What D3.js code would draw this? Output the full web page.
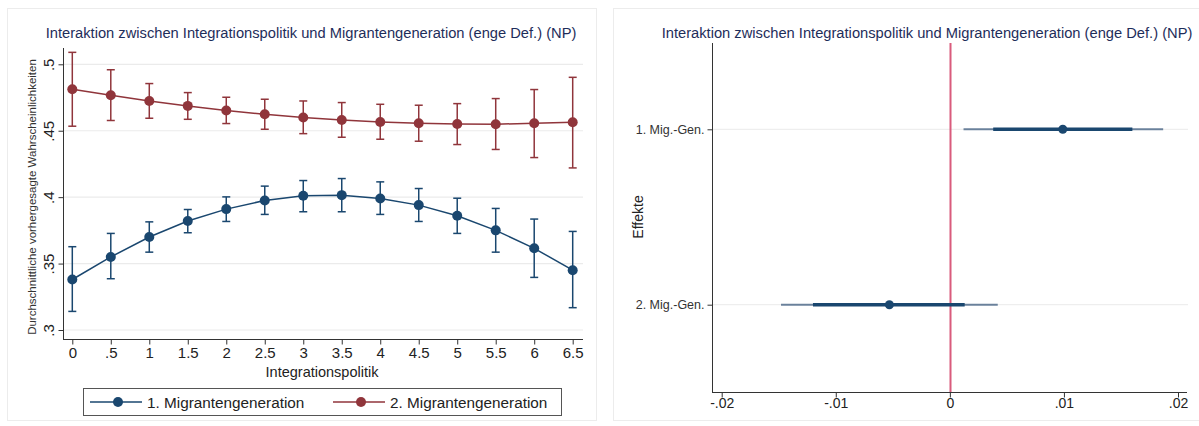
<!DOCTYPE html>
<html><head><meta charset="utf-8">
<script src="https://cdn.jsdelivr.net/npm/d3@7"></script>
<style>body{margin:0;background:#fff;}svg{display:block;font-family:"Liberation Sans",Arial,sans-serif;}</style>
</head><body>
<script>
// ---- Data: left panel (predictive margins)
const xValues = [0, 0.5, 1, 1.5, 2, 2.5, 3, 3.5, 4, 4.5, 5, 5.5, 6, 6.5];
const xTickLabels = ["0", ".5", "1", "1.5", "2", "2.5", "3", "3.5", "4", "4.5", "5", "5.5", "6", "6.5"];
const yTicks = [0.3, 0.35, 0.4, 0.45, 0.5];
const yTickLabels = [".3", ".35", ".4", ".45", ".5"];
const gen1Mean = [0.338, 0.355, 0.370, 0.382, 0.391, 0.3975, 0.401, 0.4015, 0.399, 0.394, 0.386, 0.375, 0.3615, 0.345];
const gen1Low  = [0.314, 0.3386, 0.3586, 0.3732, 0.3817, 0.387, 0.389, 0.389, 0.387, 0.3817, 0.3727, 0.3586, 0.3396, 0.3168];
const gen1High = [0.3627, 0.3727, 0.3814, 0.3907, 0.4002, 0.4083, 0.4125, 0.414, 0.4115, 0.4065, 0.3992, 0.3915, 0.3835, 0.3742];
const gen2Mean = [0.4812, 0.4767, 0.4724, 0.4687, 0.4652, 0.4624, 0.4599, 0.4581, 0.4566, 0.4556, 0.4551, 0.4549, 0.4556, 0.4564];
const gen2Low  = [0.4534, 0.4577, 0.4594, 0.4586, 0.4554, 0.4511, 0.4478, 0.4451, 0.4436, 0.4421, 0.4396, 0.4359, 0.4298, 0.422];
const gen2High = [0.509, 0.4959, 0.4855, 0.4787, 0.4752, 0.4737, 0.4724, 0.4712, 0.4699, 0.4692, 0.4704, 0.4742, 0.481, 0.4902];
const seriesNames = ["1. Migrantengeneration", "2. Migrantengeneration"];

// ---- Data: right panel (coefficient plot)
const effectLabels = ["1. Mig.-Gen.", "2. Mig.-Gen."];
const effectEst = [0.0099, -0.0053];
const effectCI95Low = [0.0012, -0.0148];
const effectCI95High = [0.0187, 0.0042];
const effectCI90Low = [0.0038, -0.0120];
const effectCI90High = [0.0160, 0.0013];
const effTicks = [-0.02, -0.01, 0, 0.01, 0.02];
const effTickLabels = ["-.02", "-.01", "0", ".01", ".02"];

const titleText = "Interaktion zwischen Integrationspolitik und Migrantengeneration (enge Def.) (NP)";
const blue = "#1a476f", red = "#90353b", titleColor = "#1e2d5a";

const svg = d3.select("body").append("svg").attr("width", 1199).attr("height", 426);
svg.append("rect").attr("width",1199).attr("height",426).attr("fill","#fff");

// panel frames
svg.append("rect").attr("x",7.5).attr("y",8.5).attr("width",589).attr("height",412).attr("fill","#fff").attr("stroke","#ececec");
svg.append("rect").attr("x",613.5).attr("y",8.5).attr("width",590).attr("height",412).attr("fill","#fff").attr("stroke","#ececec");

// ================= LEFT PANEL =================
const x = d3.scaleLinear().domain([0, 6.5]).range([72.3, 572.7]);
const y = d3.scaleLinear().domain([0.3, 0.5]).range([330, 64.3]);
const L = svg.append("g");

L.append("text").attr("x", 311).attr("y", 38).attr("text-anchor","middle")
  .attr("font-size", 14.7).attr("fill", titleColor).text(titleText);

// gridlines
L.append("g").selectAll("line").data(yTicks).join("line")
  .attr("x1", 64).attr("x2", 583).attr("y1", d=>y(d)).attr("y2", d=>y(d))
  .attr("stroke","#ebebeb").attr("stroke-width",1.2);

// y axis
const yAxis = L.append("g").attr("transform","translate(63.5,0)")
  .call(d3.axisLeft(y).tickValues(yTicks).tickFormat((d,i)=>yTickLabels[i]).tickSize(5).tickSizeOuter(0));
yAxis.select(".domain").attr("d","M0,48V339.5").attr("stroke","#333");
yAxis.selectAll(".tick line").attr("stroke","#333");
yAxis.selectAll(".tick text").attr("font-size",15).attr("fill","#222").attr("font-family","Liberation Sans, Arial")
  .attr("transform","rotate(-90)").attr("x",0).attr("y",-10).attr("dy",0).attr("text-anchor","middle");

// x axis
const xAxis = L.append("g").attr("transform","translate(0,339.5)")
  .call(d3.axisBottom(x).tickValues(xValues).tickFormat((d,i)=>xTickLabels[i]).tickSize(5).tickSizeOuter(0));
xAxis.select(".domain").attr("d","M63,0H583").attr("stroke","#333");
xAxis.selectAll(".tick line").attr("stroke","#333");
xAxis.selectAll(".tick text").attr("font-size",15).attr("fill","#222").attr("font-family","Liberation Sans, Arial").attr("y",8).attr("dy","0.71em");

L.append("text").attr("x", 322).attr("y", 377).attr("text-anchor","middle").attr("font-size",14.5).attr("fill","#222").text("Integrationspolitik");
L.append("text").attr("transform","translate(36,197) rotate(-90)").attr("text-anchor","middle").attr("font-size",11.5).attr("fill","#333")
  .text("Durchschnittliche vorhergesagte Wahrscheinlichkeiten");

function drawSeries(mean, lo, hi, color){
  const g = L.append("g");
  const idx = d3.range(mean.length);
  g.selectAll(".eb").data(idx).join("line").attr("x1", i=>x(xValues[i])).attr("x2", i=>x(xValues[i]))
    .attr("y1", i=>y(lo[i])).attr("y2", i=>y(hi[i])).attr("stroke", color).attr("stroke-width",1.5);
  g.selectAll(".capt").data(idx).join("line").attr("x1", i=>x(xValues[i])-4).attr("x2", i=>x(xValues[i])+4)
    .attr("y1", i=>y(hi[i])).attr("y2", i=>y(hi[i])).attr("stroke", color).attr("stroke-width",1.5);
  g.selectAll(".capb").data(idx).join("line").attr("x1", i=>x(xValues[i])-4).attr("x2", i=>x(xValues[i])+4)
    .attr("y1", i=>y(lo[i])).attr("y2", i=>y(lo[i])).attr("stroke", color).attr("stroke-width",1.5);
  g.append("path").datum(idx).attr("fill","none").attr("stroke",color).attr("stroke-width",1.5)
    .attr("d", d3.line().x(i=>x(xValues[i])).y(i=>y(mean[i])));
  g.selectAll("circle").data(idx).join("circle").attr("cx", i=>x(xValues[i])).attr("cy", i=>y(mean[i]))
    .attr("r",5).attr("fill",color);
}
drawSeries(gen2Mean, gen2Low, gen2High, red);
drawSeries(gen1Mean, gen1Low, gen1High, blue);

// legend
const lg = L.append("g");
lg.append("rect").attr("x",83.5).attr("y",388.5).attr("width",478).attr("height",27).attr("fill","#fff").attr("stroke","#555").attr("stroke-width",1);
const legendItems = [{name: seriesNames[0], color: blue, x0: 90}, {name: seriesNames[1], color: red, x0: 333}];
legendItems.forEach(it=>{
  lg.append("line").attr("x1",it.x0).attr("x2",it.x0+52).attr("y1",402).attr("y2",402).attr("stroke",it.color).attr("stroke-width",1.5);
  lg.append("circle").attr("cx",it.x0+28).attr("cy",402).attr("r",5).attr("fill",it.color);
  lg.append("text").attr("x",it.x0+57).attr("y",407.5).attr("font-size",15.3).attr("fill","#222").text(it.name);
});

// ================= RIGHT PANEL =================
const ex = d3.scaleLinear().domain([-0.02, 0.02]).range([721.7, 1178]);
const ey = d3.scalePoint().domain(effectLabels).range([129.3, 304.7]);
const R = svg.append("g");

R.append("text").attr("x", 927).attr("y", 38).attr("text-anchor","middle")
  .attr("font-size", 14.7).attr("fill", titleColor).text(titleText);

R.append("g").selectAll("line").data(effectLabels).join("line")
  .attr("x1",713).attr("x2",1188).attr("y1",d=>ey(d)).attr("y2",d=>ey(d)).attr("stroke","#eeeeee").attr("stroke-width",1.2);

const eyAxis = R.append("g").attr("transform","translate(712.5,0)")
  .call(d3.axisLeft(ey).tickSize(5).tickSizeOuter(0));
eyAxis.select(".domain").attr("d","M0,43V393").attr("stroke","#333");
eyAxis.selectAll(".tick line").attr("stroke","#333");
eyAxis.selectAll(".tick text").attr("font-size",12.5).attr("fill","#333").attr("font-family","Liberation Sans, Arial");

const exAxis = R.append("g").attr("transform","translate(0,392.5)")
  .call(d3.axisBottom(ex).tickValues(effTicks).tickFormat((d,i)=>effTickLabels[i]).tickSize(5).tickSizeOuter(0));
exAxis.select(".domain").attr("d","M712,0H1187").attr("stroke","#333");
exAxis.selectAll(".tick line").attr("stroke","#333");
exAxis.selectAll(".tick text").attr("font-size",14).attr("fill","#222").attr("font-family","Liberation Sans, Arial").attr("y",6);

R.append("text").attr("transform","translate(643,217) rotate(-90)").attr("text-anchor","middle")
  .attr("font-size",14).attr("fill","#222").text("Effekte");

R.append("line").attr("x1",Math.round(ex(0))+0.5).attr("x2",Math.round(ex(0))+0.5).attr("y1",43).attr("y2",392).attr("stroke","#d95b7c").attr("stroke-width",2);

const ei = d3.range(effectLabels.length);
R.selectAll(".ci95").data(ei).join("line").attr("x1",i=>ex(effectCI95Low[i])).attr("x2",i=>ex(effectCI95High[i]))
  .attr("y1",i=>ey(effectLabels[i])).attr("y2",i=>ey(effectLabels[i])).attr("stroke","#3d5c7f").attr("stroke-opacity",0.75).attr("stroke-width",2);
R.selectAll(".ci90").data(ei).join("line").attr("x1",i=>ex(effectCI90Low[i])).attr("x2",i=>ex(effectCI90High[i]))
  .attr("y1",i=>ey(effectLabels[i])).attr("y2",i=>ey(effectLabels[i])).attr("stroke",blue).attr("stroke-width",3.5);
R.selectAll(".pt").data(ei).join("circle").attr("cx",i=>ex(effectEst[i])).attr("cy",i=>ey(effectLabels[i]))
  .attr("r",4.5).attr("fill",blue);
</script>
</body></html>
